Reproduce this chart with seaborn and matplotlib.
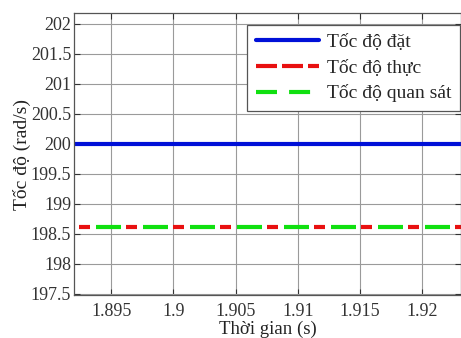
import matplotlib
matplotlib.use("Agg")
import matplotlib.pyplot as plt
import seaborn as sns
import pandas as pd

# Data
time_s = [1.890, 1.895, 1.900, 1.905, 1.910, 1.915, 1.920, 1.925]
speed_set = [200.0, 200.0, 200.0, 200.0, 200.0, 200.0, 200.0, 200.0]
speed_real = [198.62, 198.62, 198.62, 198.62, 198.62, 198.62, 198.62, 198.62]
speed_obs = [198.62, 198.62, 198.62, 198.62, 198.62, 198.62, 198.62, 198.62]
labels = ["Tốc độ đặt", "Tốc độ thực", "Tốc độ quan sát"]
xticks = [1.895, 1.900, 1.905, 1.910, 1.915, 1.920]
xticklabels = ["1.895", "1.9", "1.905", "1.91", "1.915", "1.92"]
yticks = [197.5, 198, 198.5, 199, 199.5, 200, 200.5, 201, 201.5, 202]
yticklabels = ["197.5", "198", "198.5", "199", "199.5", "200", "200.5", "201", "201.5", "202"]

sns.set_style("ticks")
plt.rcParams["font.family"] = ["Liberation Serif", "DejaVu Serif"]

df = pd.DataFrame({"t": time_s, "set": speed_set, "real": speed_real, "obs": speed_obs})

fig = plt.figure(figsize=(4.61, 3.38), dpi=100)
ax = fig.add_axes([0.1605, 0.1272, 0.8395, 0.8343])

sns.lineplot(data=df, x="t", y="set", ax=ax, color="#0010d8", lw=3.0, label=labels[0])
sns.lineplot(data=df, x="t", y="real", ax=ax, color="#e81010", lw=3.0, label=labels[1])
sns.lineplot(data=df, x="t", y="obs", ax=ax, color="#10e010", lw=3.0, label=labels[2])
lines = ax.get_lines()
lines[1].set_linestyle((4.08, (2.64, 8.64)))
lines[2].set_linestyle((0, (6.0, 5.28)))

ax.set_xlim(1.8920, 1.92313)
ax.set_ylim(197.483, 202.183)
ax.set_xticks(xticks)
ax.set_xticklabels(xticklabels)
ax.set_yticks(yticks)
ax.set_yticklabels(yticklabels)
ax.grid(True, color="#9a9a9a", lw=0.8)
ax.tick_params(direction="in", top=True, right=True, labelsize=13, length=4, color="#333333",
               labelcolor="#333333")
ax.tick_params(axis="x", pad=6)
ax.tick_params(axis="y", pad=2)
for s in ax.spines.values():
    s.set_color("#555555")
    s.set_linewidth(0.9)

ax.set_xlabel("Thời gian (s)", fontsize=13.5, labelpad=0, color="#222222")
ax.set_ylabel("Tốc độ (rad/s)", fontsize=14, labelpad=0, color="#222222")

leg = ax.legend(loc="upper right", bbox_to_anchor=(0.998, 0.958), fontsize=14,
                frameon=True, fancybox=False, edgecolor="#555555", framealpha=1,
                handlelength=3.25, handletextpad=0.4, borderpad=0.45, labelspacing=0.4,
                borderaxespad=0)
leg.get_frame().set_linewidth(0.9)
leg_lines = leg.get_lines()
leg_lines[1].set_linestyle((0, (5.04, 1.2)))
leg_lines[2].set_linestyle((0, (5.04, 2.9)))

fig.savefig("out.png", dpi=100)
